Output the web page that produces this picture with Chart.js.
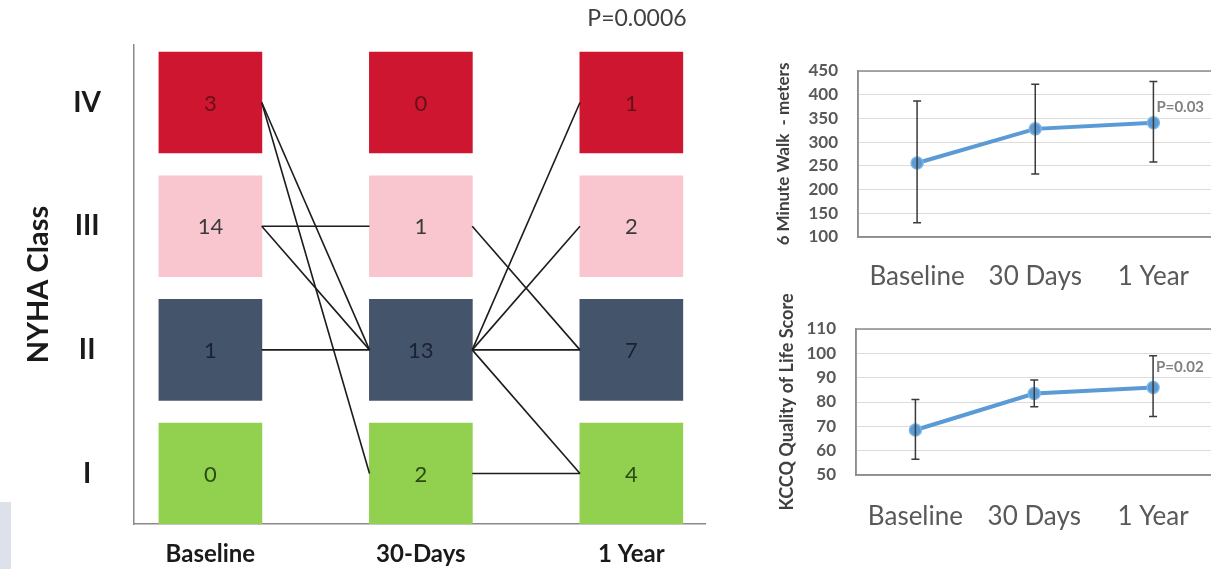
<!DOCTYPE html>
<html>
<head>
<meta charset="utf-8">
<script src="https://cdn.jsdelivr.net/npm/chart.js@4.4.1/dist/chart.umd.min.js"></script>
<style>
  html, body { margin: 0; padding: 0; background: #fff; width: 1211px; height: 569px; overflow: hidden; }
  .panel { position: absolute; }
  #pvalue { position: absolute; left: 558px; top: 3px; width: 158px; text-align: center;
            font: 23px Lato, "Open Sans", sans-serif; color: #404040; }
  #edge { position: absolute; left: 0; top: 502px; width: 11px; height: 67px; background: #dde2ea; }
</style>
</head>
<body>
<div id="edge"></div>
<div class="panel" style="left:0;top:0;width:720px;height:569px"><canvas id="nyha"></canvas></div>
<div class="panel" style="left:740px;top:0;width:480px;height:302px"><canvas id="walk"></canvas></div>
<div class="panel" style="left:740px;top:280px;width:480px;height:260px"><canvas id="kccq"></canvas></div>
<div id="pvalue">P=0.0006</div>

<script>
// ---- NYHA class distribution at each visit ----
const timePoints = ['Baseline', '30-Days', '1 Year'];
const nyhaClasses = ['I', 'II', 'III', 'IV'];          // bottom to top
const countsBaseline = [0, 1, 14, 3];                   // I, II, III, IV
const counts30Days   = [2, 13, 1, 0];
const counts1Year    = [4, 7, 2, 1];
// patient transitions: [from visit, from class, to class] (class index: I=0 ... IV=3)
const transitions = [
  [0, 3, 1], [0, 3, 0], [0, 2, 2], [0, 2, 1], [0, 1, 1],
  [1, 2, 1], [1, 1, 3], [1, 1, 2], [1, 1, 1], [1, 1, 0], [1, 0, 0]
];

// ---- 6 minute walk (meters) ----
const visitLabels = ['Baseline', '30 Days', '1 Year'];
const walkMean = [256, 328, 341];
const walkLow  = [130, 233, 258];
const walkHigh = [387, 422, 428];
const walkP = 'P=0.03';

// ---- KCCQ quality of life score ----
const kccqMean = [68.5, 83.5, 86];
const kccqLow  = [56.5, 78, 74];
const kccqHigh = [81, 89, 99];
const kccqP = 'P=0.02';

const FONT = 'Lato, "Open Sans", sans-serif';
Chart.defaults.font.family = FONT;

// ---------------- NYHA panel ----------------
const classFill = ['#92D050', '#44546A', '#F9C6D0', '#CF1630'];
const classText = ['#2a4a12', '#1a2233', '#3a3a3a', '#66101a'];
const halfW = 0.244;   // half square width, x units
const halfH = 0.408;   // half square height, y units

const squares = [];
[countsBaseline, counts30Days, counts1Year].forEach((counts, t) => {
  counts.forEach((n, c) => squares.push({ x: t, y: [c - halfH, c + halfH], n, c }));
});

const linkSets = transitions.map(([t, from, to]) => ({
  type: 'line',
  data: [{ x: t + halfW, y: from }, { x: t + 1 - halfW, y: to }],
  borderColor: '#1c1c1c',
  borderWidth: 1.6,
  pointRadius: 0,
  order: 1
}));

const countLabels = {
  id: 'countLabels',
  afterDatasetsDraw(chart) {
    const ctx = chart.ctx;
    const meta = chart.getDatasetMeta(0);
    ctx.save();
    ctx.font = '22px ' + FONT;
    ctx.textAlign = 'center';
    ctx.textBaseline = 'middle';
    meta.data.forEach((bar, i) => {
      const sq = squares[i];
      ctx.fillStyle = classText[sq.c];
      ctx.fillText(String(sq.n), bar.x, (bar.y + bar.base) / 2 + 1);
    });
    ctx.restore();
  }
};

new Chart(document.getElementById('nyha'), {
  type: 'bar',
  data: {
    datasets: [
      {
        type: 'bar',
        data: squares,
        backgroundColor: squares.map(s => classFill[s.c]),
        barThickness: 103,
        order: 2
      },
      ...linkSets
    ]
  },
  options: {
    responsive: true,
    maintainAspectRatio: false,
    animation: false,
    layout: { padding: { top: 45, right: 15, left: 0, bottom: 0 } },
    plugins: { legend: { display: false }, tooltip: { enabled: false } },
    scales: {
      x: {
        type: 'linear',
        min: -0.363,
        max: 2.35,
        offset: false,
        afterBuildTicks: s => { s.ticks = timePoints.map((_, i) => ({ value: i })); },
        afterFit: s => { s.height = 45; s.paddingLeft = 0; s.paddingRight = 0; },
        ticks: {
          autoSkip: false,
          callback: v => timePoints[v],
          font: { size: 24, weight: 'bold' },
          color: '#1a1a1a',
          padding: 16
        },
        grid: { display: false, drawTicks: false },
        border: { display: true, color: '#8a8a8a', width: 1.5 }
      },
      y: {
        type: 'linear',
        min: -halfH,
        max: 3.465,
        afterBuildTicks: s => { s.ticks = nyhaClasses.map((_, i) => ({ value: i })); },
        afterFit: s => { s.width = 134; s.paddingTop = 0; s.paddingBottom = 0; },
        ticks: {
          autoSkip: false,
          callback: v => nyhaClasses[v],
          font: { size: 28, weight: 'bold' },
          color: '#1a1a1a',
          crossAlign: 'center',
          padding: 33
        },
        grid: { display: false, drawTicks: false },
        border: { display: true, color: '#8a8a8a', width: 1.5 },
        title: {
          display: true,
          text: 'NYHA Class',
          font: { size: 29, weight: 'bold' },
          color: '#1a1a1a',
          padding: { top: 21, bottom: 0 }
        }
      }
    }
  },
  plugins: [countLabels]
});

// ---------------- trend panels ----------------
function trendChart(id, cfg) {
  const frameAndBars = {
    id: 'frameAndBars',
    beforeDatasetsDraw(chart) {
      const { ctx, chartArea: a } = chart;
      ctx.save();
      ctx.strokeStyle = '#8c8c8c';
      ctx.lineWidth = 1.5;
      ctx.strokeRect(a.left, a.top, a.right - a.left, a.bottom - a.top);
      ctx.restore();
    },
    afterDatasetsDraw(chart) {
      const { ctx } = chart;
      const xs = chart.scales.x, ys = chart.scales.y;
      ctx.save();
      ctx.strokeStyle = '#3a3a3a';
      ctx.lineWidth = 1.5;
      cfg.mean.forEach((m, i) => {
        const x = xs.getPixelForValue(i);
        const y1 = ys.getPixelForValue(cfg.low[i]);
        const y2 = ys.getPixelForValue(cfg.high[i]);
        ctx.beginPath();
        ctx.moveTo(x, y1); ctx.lineTo(x, y2);
        ctx.moveTo(x - 4, y1); ctx.lineTo(x + 4, y1);
        ctx.moveTo(x - 4, y2); ctx.lineTo(x + 4, y2);
        ctx.stroke();
      });
      // significance note beside the last visit
      const last = cfg.mean.length - 1;
      const px = xs.getPixelForValue(last);
      const py = ys.getPixelForValue(cfg.mean[last]);
      ctx.font = 'bold 15px ' + FONT;
      ctx.fillStyle = '#808080';
      ctx.textAlign = 'left';
      ctx.textBaseline = 'middle';
      ctx.fillText(cfg.note, px + 3, py - cfg.noteRise);
      ctx.restore();
    }
  };

  return new Chart(document.getElementById(id), {
    type: 'line',
    data: {
      labels: visitLabels,
      datasets: [{
        data: cfg.mean,
        borderColor: '#5B9BD5',
        borderWidth: 4,
        pointRadius: 6,
        pointBackgroundColor: '#5B9BD5',
        pointBorderColor: '#80b4e4',
        pointBorderWidth: 1.5,
        tension: 0
      }]
    },
    options: {
      responsive: true,
      maintainAspectRatio: false,
      animation: false,
      layout: { padding: { top: cfg.padTop, right: 4, left: 0, bottom: 0 } },
      plugins: { legend: { display: false }, tooltip: { enabled: false } },
      scales: {
        x: {
          offset: true,
          afterFit: s => { s.height = cfg.xHeight; s.paddingLeft = 0; s.paddingRight = 0; },
          ticks: { font: { size: 26 }, color: '#595959', padding: cfg.xPad },
          grid: { display: false, drawTicks: false },
          border: { display: true, color: '#8c8c8c', width: 1.5 }
        },
        y: {
          min: cfg.min,
          max: cfg.max,
          afterFit: s => { s.width = cfg.yWidth; s.paddingTop = 0; s.paddingBottom = 0; },
          ticks: { stepSize: cfg.step, font: { size: 17, weight: 'bold' }, color: '#595959', padding: 20 },
          grid: { color: '#dcdcdc', drawTicks: false },
          border: { display: true, color: '#8c8c8c', width: 1.5 },
          title: {
            display: true,
            text: cfg.title,
            font: { size: cfg.titleSize, weight: 'bold' },
            color: '#404040',
            padding: { top: cfg.titlePad, bottom: 0 }
          }
        }
      }
    },
    plugins: [frameAndBars]
  });
}

trendChart('walk', {
  mean: walkMean, low: walkLow, high: walkHigh, note: walkP, noteRise: 16,
  min: 100, max: 450, step: 50, title: '6 Minute Walk  - meters', titleSize: 17,
  padTop: 71, xHeight: 65, xPad: 24, yWidth: 118, titlePad: 33
});

trendChart('kccq', {
  mean: kccqMean, low: kccqLow, high: kccqHigh, note: kccqP, noteRise: 20,
  min: 50, max: 110, step: 10, title: 'KCCQ Quality of Life Score', titleSize: 18,
  padTop: 49, xHeight: 65, xPad: 26, yWidth: 116, titlePad: 36
});
</script>
</body>
</html>
